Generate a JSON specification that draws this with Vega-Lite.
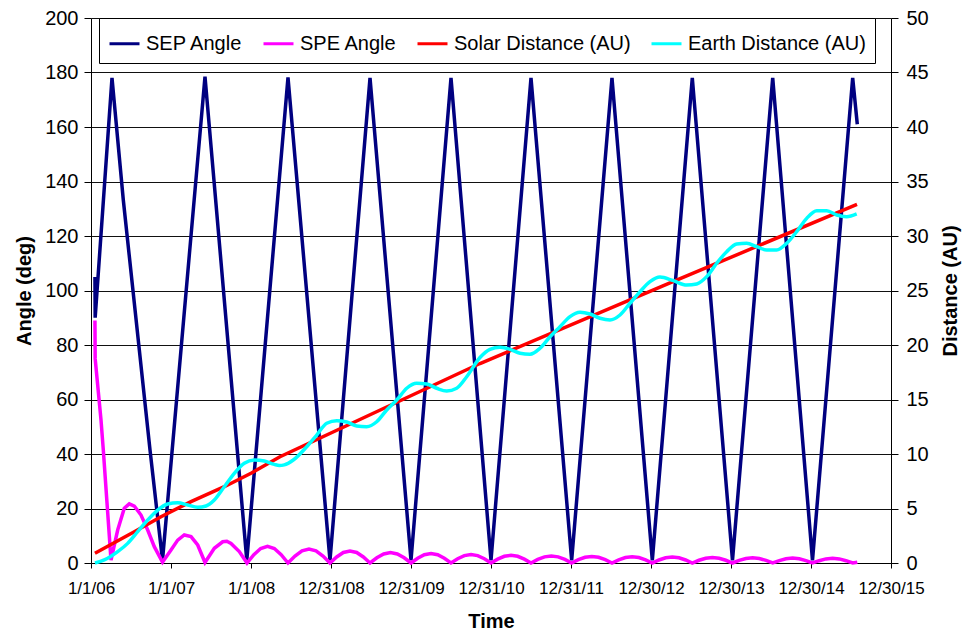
{
  "$schema": "https://vega.github.io/schema/vega-lite/v6.json",
  "width": 800,
  "height": 545,
  "autosize": {"type": "none"},
  "padding": {"left": 91, "top": 18, "right": 75, "bottom": 69},
  "background": "white",
  "config": {"font": "Liberation Sans", "view": {"stroke": null}},
  "datasets": {
    "sep": [
      {"day": 18, "value": 105}, {"day": 19, "value": 90}, {"day": 95.8, "value": 178},
      {"day": 147.4, "value": 133.2}, {"day": 269.2, "value": 41.5}, {"day": 326.2, "value": 1},
      {"day": 520.1, "value": 178.5}, {"day": 710.8, "value": 1}, {"day": 898.8, "value": 178.2},
      {"day": 1090.4, "value": 1}, {"day": 1273, "value": 178}, {"day": 1460, "value": 1},
      {"day": 1642.5, "value": 178}, {"day": 1825, "value": 1}, {"day": 2007.5, "value": 178},
      {"day": 2193, "value": 1}, {"day": 2377, "value": 178}, {"day": 2561, "value": 1},
      {"day": 2743.4, "value": 178}, {"day": 2926.8, "value": 1}, {"day": 3110.3, "value": 178},
      {"day": 3291.8, "value": 1}, {"day": 3475.2, "value": 178}, {"day": 3496.2, "value": 161}
    ],
    "spe": [
      {"day": 18, "value": 89}, {"day": 19, "value": 75}, {"day": 45.6, "value": 52.5},
      {"day": 56.1, "value": 41.5}, {"day": 91.3, "value": 1.1}, {"day": 121.8, "value": 12.1},
      {"day": 151.9, "value": 20.1}, {"day": 174.7, "value": 21.7}, {"day": 197.6, "value": 20.9},
      {"day": 228.1, "value": 17.6}, {"day": 258.7, "value": 12.1}, {"day": 288.8, "value": 6.0},
      {"day": 326.2, "value": 0.3}, {"day": 365, "value": 4.8}, {"day": 395.6, "value": 8.4},
      {"day": 425.7, "value": 10.3}, {"day": 456.3, "value": 9.7}, {"day": 486.8, "value": 6.6},
      {"day": 520.1, "value": 0.2}, {"day": 562.6, "value": 5.4}, {"day": 600.9, "value": 7.8},
      {"day": 619.8, "value": 8.0}, {"day": 638.8, "value": 7.2}, {"day": 676.6, "value": 4.2},
      {"day": 711.8, "value": 0},
      {"day": 743.0, "value": 3.05}, {"day": 774.1, "value": 5.3}, {"day": 805.3, "value": 6.1}, {"day": 836.5, "value": 5.3}, {"day": 867.6, "value": 3.05}, {"day": 898.8, "value": 0},
      {"day": 930.7, "value": 2.55}, {"day": 962.7, "value": 4.45}, {"day": 994.6, "value": 5.1}, {"day": 1026.5, "value": 4.45}, {"day": 1058.5, "value": 2.55}, {"day": 1090.4, "value": 0},
      {"day": 1120.8, "value": 2.2}, {"day": 1151.3, "value": 3.85}, {"day": 1181.7, "value": 4.4}, {"day": 1212.1, "value": 3.85}, {"day": 1242.6, "value": 2.2}, {"day": 1273, "value": 0},
      {"day": 1304.2, "value": 1.9}, {"day": 1335.3, "value": 3.3}, {"day": 1366.5, "value": 3.8}, {"day": 1397.7, "value": 3.3}, {"day": 1428.8, "value": 1.9}, {"day": 1460, "value": 0},
      {"day": 1490.4, "value": 1.75}, {"day": 1520.8, "value": 3.05}, {"day": 1551.3, "value": 3.5}, {"day": 1581.7, "value": 3.05}, {"day": 1612.1, "value": 1.75}, {"day": 1642.5, "value": 0},
      {"day": 1672.9, "value": 1.55}, {"day": 1703.3, "value": 2.7}, {"day": 1733.8, "value": 3.1}, {"day": 1764.2, "value": 2.7}, {"day": 1794.6, "value": 1.55}, {"day": 1825, "value": 0},
      {"day": 1855.4, "value": 1.4}, {"day": 1885.8, "value": 2.45}, {"day": 1916.3, "value": 2.8}, {"day": 1946.7, "value": 2.45}, {"day": 1977.1, "value": 1.4}, {"day": 2007.5, "value": 0},
      {"day": 2038.4, "value": 1.3}, {"day": 2069.3, "value": 2.25}, {"day": 2100.3, "value": 2.6}, {"day": 2131.2, "value": 2.25}, {"day": 2162.1, "value": 1.3}, {"day": 2193, "value": 0},
      {"day": 2223.7, "value": 1.2}, {"day": 2254.3, "value": 2.1}, {"day": 2285, "value": 2.4}, {"day": 2315.7, "value": 2.1}, {"day": 2346.3, "value": 1.2}, {"day": 2377, "value": 0},
      {"day": 2407.7, "value": 1.15}, {"day": 2438.3, "value": 2.0}, {"day": 2469, "value": 2.3}, {"day": 2499.7, "value": 2.0}, {"day": 2530.3, "value": 1.15}, {"day": 2561, "value": 0},
      {"day": 2591.4, "value": 1.1}, {"day": 2621.8, "value": 1.9}, {"day": 2652.2, "value": 2.2}, {"day": 2682.6, "value": 1.9}, {"day": 2713, "value": 1.1}, {"day": 2743.4, "value": 0},
      {"day": 2774, "value": 1.0}, {"day": 2804.5, "value": 1.75}, {"day": 2835.1, "value": 2.0}, {"day": 2865.7, "value": 1.75}, {"day": 2896.2, "value": 1.0}, {"day": 2926.8, "value": 0},
      {"day": 2957.4, "value": 0.95}, {"day": 2988, "value": 1.65}, {"day": 3018.6, "value": 1.9}, {"day": 3049.1, "value": 1.65}, {"day": 3079.7, "value": 0.95}, {"day": 3110.3, "value": 0},
      {"day": 3140.5, "value": 0.9}, {"day": 3170.8, "value": 1.55}, {"day": 3201.1, "value": 1.8}, {"day": 3231.5, "value": 1.55}, {"day": 3261.6, "value": 0.9}, {"day": 3291.8, "value": 0},
      {"day": 3322.4, "value": 0.85}, {"day": 3352.9, "value": 1.5}, {"day": 3383.5, "value": 1.7}, {"day": 3414.1, "value": 1.5}, {"day": 3444.6, "value": 0.85}, {"day": 3475.2, "value": 0},
      {"day": 3496.2, "value": 0.3}
    ],
    "solar": [
      {"day": 18, "value": 0.9}, {"day": 197.6, "value": 2.87}, {"day": 319.4, "value": 4.25},
      {"day": 456.3, "value": 5.63}, {"day": 608.2, "value": 7.0}, {"day": 730, "value": 8.23},
      {"day": 862.3, "value": 9.75}, {"day": 1774.8, "value": 18.3}, {"day": 2641.7, "value": 25.7},
      {"day": 3494.9, "value": 32.9}
    ],
    "earth": [
      {"day": 18, "value": 0}, {"day": 60.7, "value": 0.28}, {"day": 121.8, "value": 1.04},
      {"day": 167.4, "value": 1.8}, {"day": 213.1, "value": 2.87}, {"day": 258.7, "value": 3.94},
      {"day": 304.3, "value": 4.86}, {"day": 349.9, "value": 5.41}, {"day": 395.6, "value": 5.53},
      {"day": 441.2, "value": 5.32}, {"day": 486.8, "value": 5.11}, {"day": 524.7, "value": 5.23},
      {"day": 562.6, "value": 5.78}, {"day": 608.2, "value": 7.0}, {"day": 653.8, "value": 8.23},
      {"day": 699.4, "value": 9.15}, {"day": 745.1, "value": 9.45}, {"day": 790.7, "value": 9.36},
      {"day": 836.3, "value": 9.05}, {"day": 859.1, "value": 8.95}, {"day": 881.9, "value": 9.0},
      {"day": 922.9, "value": 9.45}, {"day": 984.1, "value": 10.67}, {"day": 1029.8, "value": 11.74},
      {"day": 1075.4, "value": 12.82}, {"day": 1121, "value": 13.06}, {"day": 1166.6, "value": 12.94},
      {"day": 1212.3, "value": 12.57}, {"day": 1257.9, "value": 12.51}, {"day": 1303.5, "value": 12.96},
      {"day": 1349.1, "value": 14.04}, {"day": 1394.8, "value": 14.95}, {"day": 1440.4, "value": 16.03},
      {"day": 1486, "value": 16.49}, {"day": 1531.6, "value": 16.42}, {"day": 1577.3, "value": 16.03},
      {"day": 1622.9, "value": 15.78}, {"day": 1668.5, "value": 16.03}, {"day": 1714.1, "value": 17.09},
      {"day": 1774.8, "value": 18.85}, {"day": 1820.4, "value": 19.6}, {"day": 1866.1, "value": 19.79},
      {"day": 1911.7, "value": 19.6}, {"day": 1957.3, "value": 19.24}, {"day": 2002.9, "value": 19.15},
      {"day": 2048.6, "value": 19.7}, {"day": 2094.2, "value": 20.76}, {"day": 2139.8, "value": 21.68},
      {"day": 2185.4, "value": 22.6}, {"day": 2231.1, "value": 23.0}, {"day": 2276.7, "value": 22.84},
      {"day": 2322.3, "value": 22.45}, {"day": 2367.9, "value": 22.29}, {"day": 2413.6, "value": 22.75},
      {"day": 2459.2, "value": 23.83}, {"day": 2504.8, "value": 24.89}, {"day": 2550.4, "value": 25.81},
      {"day": 2596.1, "value": 26.24}, {"day": 2656.8, "value": 25.9}, {"day": 2717.9, "value": 25.5},
      {"day": 2763.5, "value": 25.6}, {"day": 2809.1, "value": 26.27}, {"day": 2854.8, "value": 27.5},
      {"day": 2900.4, "value": 28.56}, {"day": 2946, "value": 29.27}, {"day": 2991.6, "value": 29.33},
      {"day": 3037.3, "value": 29.02}, {"day": 3082.9, "value": 28.72}, {"day": 3128.5, "value": 28.72},
      {"day": 3174.1, "value": 29.33}, {"day": 3219.8, "value": 30.4}, {"day": 3265.4, "value": 31.62},
      {"day": 3311, "value": 32.32}, {"day": 3356.6, "value": 32.32}, {"day": 3402.3, "value": 31.93},
      {"day": 3447.9, "value": 31.77}, {"day": 3493.5, "value": 32.02}
    ]
  },
  "encoding": {
    "x": {
      "field": "day", "type": "quantitative",
      "scale": {"domain": [0, 3650], "nice": false, "zero": false},
      "axis": {
        "values": [0, 365, 730, 1095, 1460, 1825, 2190, 2555, 2920, 3285, 3650],
        "labelExpr": "utcFormat(utc(2006, 0, 1 + datum.value), '%-m/%-d/%y')",
        "labelOverlap": false, "labelFlush": false, "labelBound": false,
        "grid": false, "domainColor": "black", "tickColor": "black", "tickSize": 5,
        "labelFontSize": 17, "labelColor": "black", "labelPadding": 12, "labelFont": "Liberation Sans",
        "title": "Time", "titleFontSize": 20, "titleFontWeight": "bold", "titleColor": "black",
        "titleFont": "Liberation Sans", "titleY": 58, "titleBaseline": "middle"
      }
    },
    "color": {
      "field": "series", "type": "nominal",
      "scale": {
        "domain": ["SEP Angle", "SPE Angle", "Solar Distance (AU)", "Earth Distance (AU)"],
        "range": ["#000080", "#FF00FF", "#FF0000", "#00FFFF"]
      },
      "legend": {
        "orient": "none", "legendX": 8, "legendY": 0, "direction": "horizontal", "columns": 4,
        "title": null, "symbolType": "stroke", "symbolSize": 900, "symbolStrokeWidth": 3,
        "labelFontSize": 20, "labelFont": "Liberation Sans", "labelColor": "black", "labelOffset": 5,
        "columnPadding": 14, "padding": 9, "strokeColor": "black", "fillColor": "white", "labelLimit": 0
      }
    }
  },
  "layer": [
    {
      "encoding": {
        "y": {
          "field": "value", "type": "quantitative",
          "scale": {"domain": [0, 200], "nice": false},
          "axis": {
            "orient": "left", "values": [0, 20, 40, 60, 80, 100, 120, 140, 160, 180, 200],
            "grid": true, "gridColor": "#111111", "gridWidth": 1,
            "domainColor": "black", "tickColor": "black", "tickSize": 7,
            "labelFontSize": 20, "labelColor": "black", "labelPadding": 6, "labelFont": "Liberation Sans",
            "title": "Angle (deg)", "titleFontSize": 20, "titleFontWeight": "bold", "titleColor": "black",
            "titleFont": "Liberation Sans", "titleX": -67, "titleBaseline": "middle"
          }
        }
      },
      "layer": [
        {
          "data": {"name": "sep"},
          "transform": [{"calculate": "'SEP Angle'", "as": "series"}],
          "mark": {"type": "line", "strokeWidth": 3.5}
        },
        {
          "data": {"name": "spe"},
          "transform": [{"calculate": "'SPE Angle'", "as": "series"}],
          "mark": {"type": "line", "strokeWidth": 3.5}
        }
      ]
    },
    {
      "encoding": {
        "y": {
          "field": "value", "type": "quantitative",
          "scale": {"domain": [0, 50], "nice": false},
          "axis": {
            "orient": "right", "values": [0, 5, 10, 15, 20, 25, 30, 35, 40, 45, 50],
            "grid": false, "domainColor": "black", "tickColor": "black", "tickSize": 7,
            "labelFontSize": 20, "labelColor": "black", "labelPadding": 8, "labelFont": "Liberation Sans",
            "title": "Distance (AU)", "titleFontSize": 20, "titleFontWeight": "bold", "titleColor": "black",
            "titleFont": "Liberation Sans", "titleX": 59, "titleAngle": 270, "titleBaseline": "middle"
          }
        }
      },
      "layer": [
        {
          "data": {"name": "solar"},
          "transform": [{"calculate": "'Solar Distance (AU)'", "as": "series"}],
          "mark": {"type": "line", "strokeWidth": 3.5}
        },
        {
          "data": {"name": "earth"},
          "transform": [{"calculate": "'Earth Distance (AU)'", "as": "series"}],
          "mark": {"type": "line", "strokeWidth": 3.5, "interpolate": "monotone"}
        }
      ]
    }
  ],
  "resolve": {"scale": {"y": "independent"}}
}
